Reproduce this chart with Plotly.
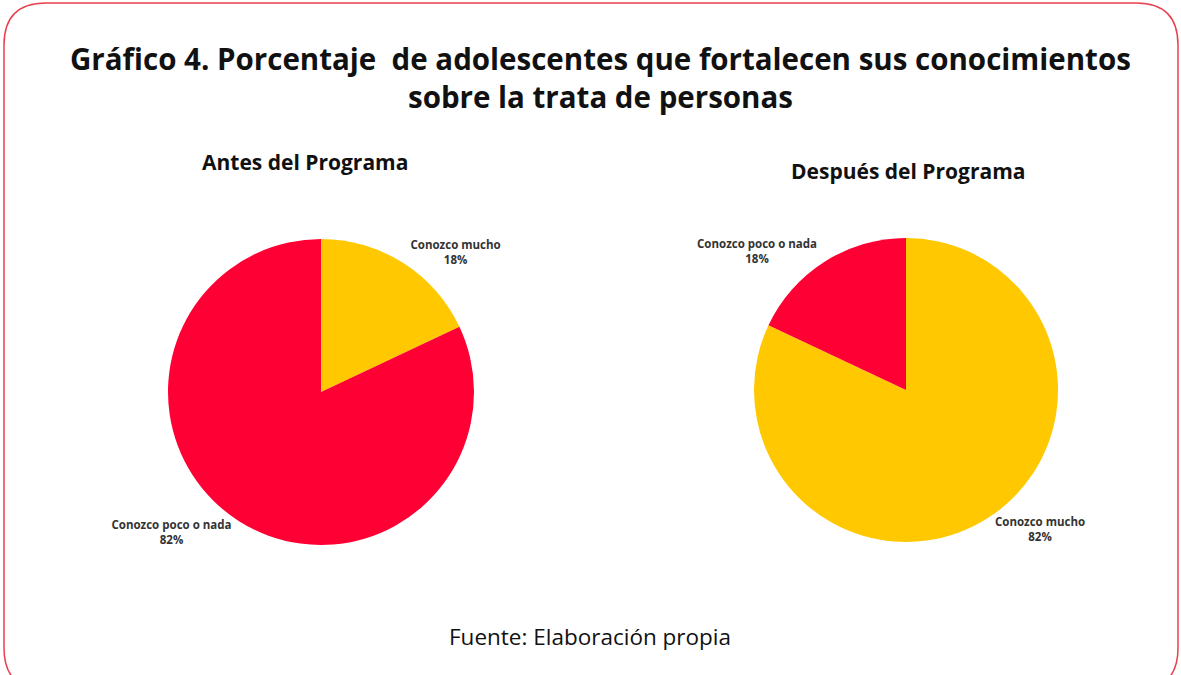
import plotly.graph_objects as go

W, H = 1181, 675

categories = ["Conozco mucho", "Conozco poco o nada"]
antes = [18, 82]
despues = [82, 18]
colors = {"Conozco mucho": "#FFC800", "Conozco poco o nada": "#FF0035"}

title_lines = [
    "Gráfico 4. Porcentaje  de adolescentes que fortalecen sus conocimientos",
    "sobre la trata de personas",
]
sub_titles = ["Antes del Programa", "Después del Programa"]
source = "Fuente: Elaboración propia"


def px(x):
    return x / W


def py(y):
    return 1 - y / H


def pie(values, domain):
    return go.Pie(
        labels=categories,
        values=values,
        sort=False,
        direction="clockwise",
        rotation=0,
        marker=dict(colors=[colors[c] for c in categories], line=dict(width=0)),
        texttemplate="%{label}<br>%{percent:.0%}",
        textposition="outside",
        outsidetextfont=dict(family="Open Sans", size=11.5, color="#333333", weight="bold"),
        showlegend=False,
        hoverinfo="label+percent",
        domain=domain,
    )


fig = go.Figure()
fig.add_trace(pie(antes, dict(x=[px(168), px(474)], y=[py(545), py(239)])))
fig.add_trace(pie(despues, dict(x=[px(754), px(1058)], y=[py(542), py(238)])))

# rounded frame
r = 42
x0, x1, y0, y1 = 4, 1178, 3, 690
path = (
    f"M {px(x0)},{py(y0 + r)} "
    f"Q {px(x0)},{py(y0)} {px(x0 + r)},{py(y0)} "
    f"L {px(x1 - r)},{py(y0)} "
    f"Q {px(x1)},{py(y0)} {px(x1)},{py(y0 + r)} "
    f"L {px(x1)},{py(y1 - r)} "
    f"Q {px(x1)},{py(y1)} {px(x1 - r)},{py(y1)} "
    f"L {px(x0 + r)},{py(y1)} "
    f"Q {px(x0)},{py(y1)} {px(x0)},{py(y1 - r)} Z"
)
fig.add_shape(type="path", path=path, xref="paper", yref="paper",
              line=dict(color="#E8404F", width=1.5))


def text(t, x, y, font):
    fig.add_annotation(text=t, x=px(x), y=py(y), xref="paper", yref="paper",
                       xanchor="center", yanchor="middle", showarrow=False, font=font)


title_font = dict(family="Open Sans", size=29.5, color="#111111")
text(f"<b>{title_lines[0]}</b>", 600, 58, title_font)
text(f"<b>{title_lines[1]}</b>", 600, 97, title_font)

sub_font = dict(family="Open Sans", size=21, color="#111111")
text(f"<b>{sub_titles[0]}</b>", 305, 162, sub_font)
text(f"<b>{sub_titles[1]}</b>", 908, 171, sub_font)

text(source, 590, 636, dict(family="Open Sans", size=22.5, color="#111111"))

fig.update_layout(
    width=W,
    height=H,
    margin=dict(l=0, r=0, t=0, b=0),
    paper_bgcolor="white",
    plot_bgcolor="white",
)

fig.write_html("out.html", config={"displayModeBar": False},
               post_script="document.body.style.margin='0';")
